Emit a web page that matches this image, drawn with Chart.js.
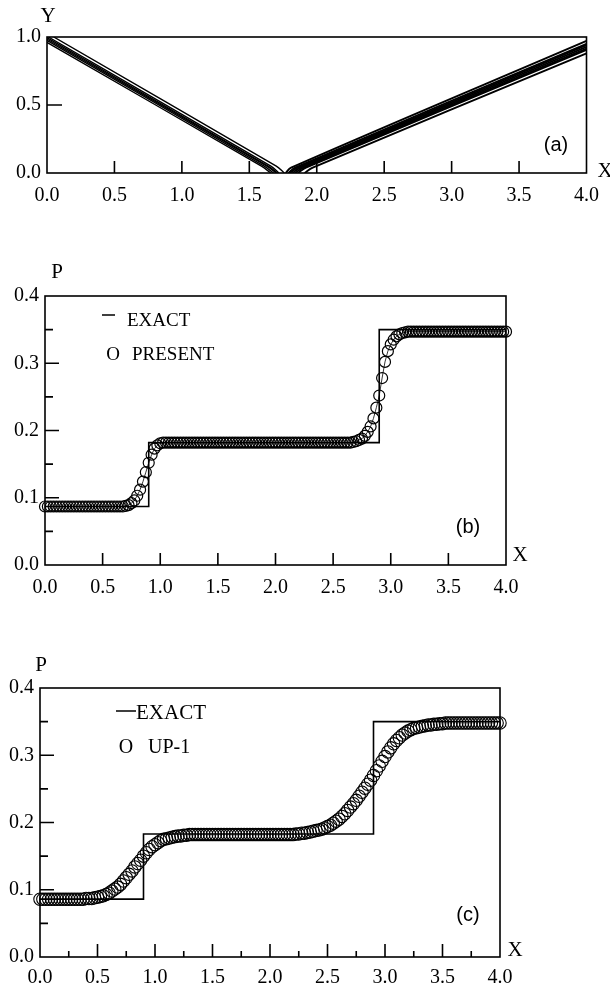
<!DOCTYPE html>
<html>
<head>
<meta charset="utf-8">
<script src="https://cdn.jsdelivr.net/npm/chart.js@4.4.1/dist/chart.umd.min.js"></script>
<style>
  html, body { margin: 0; padding: 0; background: #fff; }
  body { width: 610px; height: 992px; position: relative; overflow: hidden; }
  canvas { position: absolute; left: 0; }
</style>
</head>
<body>
<canvas id="chartA" width="610" height="235" style="top:0px"></canvas>
<canvas id="chartB" width="610" height="350" style="top:250px"></canvas>
<canvas id="chartC" width="610" height="352" style="top:640px"></canvas>
<script>
// ---- data ----
// (a) contour lines, [x, y] points
const leftContours = [
    [[0.00, 0.960], [1.59, 0.05], [1.66, 0.0]],
    [[0.00, 0.975], [1.61, 0.05], [1.68, 0.0]],
    [[0.00, 0.985], [1.63, 0.05], [1.70, 0.0]],
    [[0.00, 0.995], [1.64, 0.05], [1.71, 0.0]],
    [[0.01, 1.000], [1.66, 0.05], [1.72, 0.0]],
    [[0.05, 1.000], [1.70, 0.05], [1.76, 0.0]]
];
const rightContours = [
    [[1.91, 0.0], [1.97, 0.04], [4.0, 0.880]],
    [[1.86, 0.0], [1.92, 0.04], [4.0, 0.905]],
    [[1.84, 0.0], [1.90, 0.04], [4.0, 0.915]],
    [[1.82, 0.0], [1.88, 0.04], [4.0, 0.928]],
    [[1.80, 0.0], [1.86, 0.04], [4.0, 0.940]],
    [[1.79, 0.0], [1.84, 0.04], [4.0, 0.950]],
    [[1.77, 0.0], [1.81, 0.04], [4.0, 0.972]]
];

// (b), (c) exact solution (step)
const exactX  = [0.0, 0.9, 0.9, 2.9, 2.9, 4.0];
const exactYb = [0.087, 0.087, 0.182, 0.182, 0.350, 0.350];
const exactYc = [0.086, 0.086, 0.183, 0.183, 0.350, 0.350];

// mesh spacing of the computed solutions (x = i * gridStep)
const gridStep = 0.025;

// (b) PRESENT scheme
const presentY = [
    0.087,0.087,0.087,0.087,0.087,0.087,0.087,0.087,0.087,0.087,
    0.087,0.087,0.087,0.087,0.087,0.087,0.087,0.087,0.087,0.087,
    0.087,0.087,0.087,0.087,0.087,0.087,0.087,0.087,0.088,0.089,
    0.092,0.096,0.103,0.112,0.124,0.138,0.152,0.164,0.173,0.178,
    0.181,0.182,0.182,0.182,0.182,0.182,0.182,0.182,0.182,0.182,
    0.182,0.182,0.182,0.182,0.182,0.182,0.182,0.182,0.182,0.182,
    0.182,0.182,0.182,0.182,0.182,0.182,0.182,0.182,0.182,0.182,
    0.182,0.182,0.182,0.182,0.182,0.182,0.182,0.182,0.182,0.182,
    0.182,0.182,0.182,0.182,0.182,0.182,0.182,0.182,0.182,0.182,
    0.182,0.182,0.182,0.182,0.182,0.182,0.182,0.182,0.182,0.182,
    0.182,0.182,0.182,0.182,0.182,0.182,0.182,0.183,0.184,0.186,
    0.188,0.192,0.198,0.206,0.218,0.234,0.252,0.278,0.302,0.318,
    0.328,0.335,0.340,0.343,0.345,0.346,0.347,0.347,0.347,0.347,
    0.347,0.347,0.347,0.347,0.347,0.347,0.347,0.347,0.347,0.347,
    0.347,0.347,0.347,0.347,0.347,0.347,0.347,0.347,0.347,0.347,
    0.347,0.347,0.347,0.347,0.347,0.347,0.347,0.347,0.347,0.347,
    0.347
];

// (c) UP-1 scheme
const upwindY = [
    0.086,0.086,0.086,0.086,0.086,0.086,0.086,0.086,0.086,0.086,
    0.086,0.086,0.086,0.086,0.086,0.086,0.087,0.087,0.087,0.088,
    0.089,0.090,0.091,0.093,0.095,0.098,0.101,0.104,0.108,0.113,
    0.118,0.123,0.128,0.134,0.139,0.144,0.150,0.155,0.160,0.164,
    0.167,0.170,0.173,0.175,0.176,0.177,0.178,0.179,0.180,0.180,
    0.181,0.181,0.182,0.182,0.182,0.182,0.182,0.182,0.182,0.182,
    0.182,0.182,0.182,0.182,0.182,0.182,0.182,0.182,0.182,0.182,
    0.182,0.182,0.182,0.182,0.182,0.182,0.182,0.182,0.182,0.182,
    0.182,0.182,0.182,0.182,0.182,0.182,0.182,0.182,0.182,0.183,
    0.183,0.184,0.184,0.185,0.186,0.187,0.188,0.189,0.190,0.192,
    0.194,0.196,0.199,0.202,0.205,0.209,0.213,0.218,0.223,0.228,
    0.233,0.239,0.245,0.251,0.257,0.263,0.270,0.277,0.284,0.291,
    0.298,0.305,0.311,0.317,0.322,0.326,0.330,0.333,0.336,0.338,
    0.340,0.341,0.342,0.343,0.344,0.345,0.345,0.346,0.346,0.347,
    0.347,0.348,0.348,0.348,0.348,0.348,0.348,0.348,0.348,0.348,
    0.348,0.348,0.348,0.348,0.348,0.348,0.348,0.348,0.348,0.348,
    0.348
];

// ticks
const xTicks      = [0, 0.5, 1.0, 1.5, 2.0, 2.5, 3.0, 3.5, 4.0];
const xTickLabels = ['0.0', '0.5', '1.0', '1.5', '2.0', '2.5', '3.0', '3.5', '4.0'];
const xMinorC     = [0.25, 0.75, 1.25, 1.75, 2.25, 2.75, 3.25, 3.75];
const yTicksA      = [0, 0.5, 1.0];
const yTickLabelsA = ['0.0', '0.5', '1.0'];
const yTicksP      = [0, 0.1, 0.2, 0.3, 0.4];
const yTickLabelsP = ['0.0', '0.1', '0.2', '0.3', '0.4'];
const yMinorP      = [0.05, 0.15, 0.25, 0.35];

// ---- helpers ----
const SERIF = "'Liberation Serif', 'DejaVu Serif', serif";
const SANS = "'Liberation Sans', Arial, sans-serif";

function zip(xs, ys) {
    return xs.map((x, i) => ({ x: x, y: ys[i] }));
}
function onGrid(ys) {
    return ys.map((y, i) => ({ x: +(i * gridStep).toFixed(3), y: y }));
}

// 枠、内向きの目盛り、ラベル文字
const frameAndTicks = {
    id: 'frameAndTicks',
    afterDatasetsDraw(chart, args, o) {
        const ctx = chart.ctx;
        const a = chart.chartArea;
        const sx = chart.scales.x, sy = chart.scales.y;
        ctx.save();
        ctx.strokeStyle = '#000';
        ctx.lineWidth = 1.6;
        ctx.strokeRect(a.left, a.top, a.right - a.left, a.bottom - a.top);

        ctx.beginPath();
        const xt = (vals, len) => vals.forEach(v => {
            const p = sx.getPixelForValue(v);
            ctx.moveTo(p, a.bottom);
            ctx.lineTo(p, a.bottom - len);
        });
        const yt = (vals, len) => vals.forEach(v => {
            const p = sy.getPixelForValue(v);
            ctx.moveTo(a.left, p);
            ctx.lineTo(a.left + len, p);
        });
        xt(o.xMajor || [], o.xMajorLen || 12);
        xt(o.xMinor || [], o.xMinorLen || 6);
        yt(o.yMajor || [], o.yMajorLen || 14);
        yt(o.yMinor || [], o.yMinorLen || 8);
        if (o.dash) {
            ctx.moveTo(o.dash[0], o.dash[2]);
            ctx.lineTo(o.dash[1], o.dash[2]);
        }
        ctx.stroke();

        ctx.fillStyle = '#000';
        ctx.textBaseline = 'middle';
        (o.texts || []).forEach(t => {
            ctx.font = t.font;
            ctx.textAlign = t.align || 'center';
            ctx.fillText(t.text, t.x, t.y);
        });
        ctx.restore();
    }
};

function axes(opts) {
    const tickFont = { family: SERIF, size: 20 };
    return {
        x: {
            type: 'linear', min: 0, max: 4,
            afterBuildTicks: s => { s.ticks = xTicks.map(v => ({ value: v })); },
            ticks: { callback: (v, i) => xTickLabels[i], font: tickFont, color: '#000',
                     padding: opts.xPad, maxRotation: 0, autoSkip: false },
            grid: { display: false, drawTicks: false },
            border: { display: false },
            afterFit: s => { s.height = opts.xHeight; }
        },
        y: {
            type: 'linear', min: opts.yMin, max: opts.yMax,
            afterBuildTicks: s => { s.ticks = opts.yTicks.map(v => ({ value: v })); },
            ticks: { callback: (v, i) => opts.yLabels[i], font: tickFont, color: '#000',
                     padding: 6, autoSkip: false },
            grid: { display: false, drawTicks: false },
            border: { display: false },
            afterFit: s => { s.width = opts.yWidth; }
        }
    };
}

Chart.defaults.animation = false;
Chart.defaults.responsive = false;
Chart.defaults.devicePixelRatio = 1;

// ---- (a) ----
(function() {
    const datasets = [];
    leftContours.forEach(c => datasets.push({
        data: c.map(p => ({ x: p[0], y: p[1] })),
        showLine: true, borderColor: '#000', borderWidth: 1.4,
        pointRadius: 0, tension: 0.35, fill: false
    }));
    rightContours.forEach(c => datasets.push({
        data: c.map(p => ({ x: p[0], y: p[1] })),
        showLine: true, borderColor: '#000', borderWidth: 1.9,
        pointRadius: 0, tension: 0.35, fill: false
    }));
    new Chart(document.getElementById('chartA'), {
        type: 'scatter',
        data: { datasets: datasets },
        options: {
            layout: { padding: { top: 37, right: 18, bottom: 0, left: 0 } },
            scales: axes({ yMin: 0, yMax: 1, yTicks: yTicksA, yLabels: yTickLabelsA,
                           xHeight: 62, yWidth: 47, xPad: 11 }),
            plugins: {
                legend: { display: false },
                tooltip: { enabled: false },
                frameAndTicks: {
                    xMajor: [0.5, 1.0, 1.5, 2.0, 2.5, 3.0, 3.5], xMajorLen: 12,
                    yMajor: [0.5], yMajorLen: 15,
                    texts: [
                        { text: 'Y', x: 48, y: 16, font: '21px ' + SERIF },
                        { text: 'X', x: 605, y: 171, font: '21px ' + SERIF },
                        { text: '(a)', x: 556, y: 145, font: '20px ' + SANS }
                    ]
                }
            }
        },
        plugins: [frameAndTicks]
    });
})();

// ---- (b) ----
(function() {
    new Chart(document.getElementById('chartB'), {
        type: 'scatter',
        data: {
            datasets: [{
                data: zip(exactX, exactYb),
                showLine: true, borderColor: '#000', borderWidth: 1.6,
                pointRadius: 0, tension: 0
            }, {
                data: onGrid(presentY),
                showLine: true, borderColor: '#000', borderWidth: 0.8,
                pointRadius: 5.5, pointBorderWidth: 1.2, pointBorderColor: '#000',
                pointBackgroundColor: 'rgba(0,0,0,0)', clip: false
            }]
        },
        options: {
            layout: { padding: { top: 46, right: 104, bottom: 0, left: 0 } },
            scales: axes({ yMin: 0, yMax: 0.4, yTicks: yTicksP, yLabels: yTickLabelsP,
                           xHeight: 35, yWidth: 45, xPad: 11 }),
            plugins: {
                legend: { display: false },
                tooltip: { enabled: false },
                frameAndTicks: {
                    xMajor: [0.5, 1.0, 1.5, 2.0, 2.5, 3.0, 3.5], xMajorLen: 12,
                    yMajor: [0.1, 0.2, 0.3], yMajorLen: 14,
                    yMinor: yMinorP, yMinorLen: 8,
                    dash: [102, 115, 65],
                    texts: [
                        { text: 'P', x: 57, y: 22, font: '21px ' + SERIF },
                        { text: 'X', x: 520, y: 305, font: '21px ' + SERIF },
                        { text: '(b)', x: 468, y: 277, font: '20px ' + SANS },
                        { text: 'EXACT', x: 127, y: 71, font: '19px ' + SERIF, align: 'left' },
                        { text: 'O', x: 113, y: 105, font: '19px ' + SERIF },
                        { text: 'PRESENT', x: 132, y: 105, font: '19px ' + SERIF, align: 'left' }
                    ]
                }
            }
        },
        plugins: [frameAndTicks]
    });
})();

// ---- (c) ----
(function() {
    new Chart(document.getElementById('chartC'), {
        type: 'scatter',
        data: {
            datasets: [{
                data: zip(exactX, exactYc),
                showLine: true, borderColor: '#000', borderWidth: 1.6,
                pointRadius: 0, tension: 0
            }, {
                data: onGrid(upwindY),
                showLine: false,
                pointRadius: 6.2, pointBorderWidth: 1.1, pointBorderColor: '#000',
                pointBackgroundColor: 'rgba(0,0,0,0)', clip: false
            }]
        },
        options: {
            layout: { padding: { top: 48, right: 110, bottom: 0, left: 0 } },
            scales: axes({ yMin: 0, yMax: 0.4, yTicks: yTicksP, yLabels: yTickLabelsP,
                           xHeight: 35, yWidth: 40, xPad: 9 }),
            plugins: {
                legend: { display: false },
                tooltip: { enabled: false },
                frameAndTicks: {
                    xMajor: [0.5, 1.0, 1.5, 2.0, 2.5, 3.0, 3.5], xMajorLen: 13,
                    xMinor: xMinorC, xMinorLen: 6,
                    yMajor: [0.1, 0.2, 0.3], yMajorLen: 14,
                    yMinor: yMinorP, yMinorLen: 8,
                    dash: [116, 136, 71],
                    texts: [
                        { text: 'P', x: 41, y: 25, font: '21px ' + SERIF },
                        { text: 'X', x: 515, y: 310, font: '21px ' + SERIF },
                        { text: '(c)', x: 468, y: 275, font: '20px ' + SANS },
                        { text: 'EXACT', x: 136, y: 73, font: '21px ' + SERIF, align: 'left' },
                        { text: 'O', x: 126, y: 108, font: '20px ' + SERIF },
                        { text: 'UP-1', x: 148, y: 108, font: '20px ' + SERIF, align: 'left' }
                    ]
                }
            }
        },
        plugins: [frameAndTicks]
    });
})();
</script>
</body>
</html>
